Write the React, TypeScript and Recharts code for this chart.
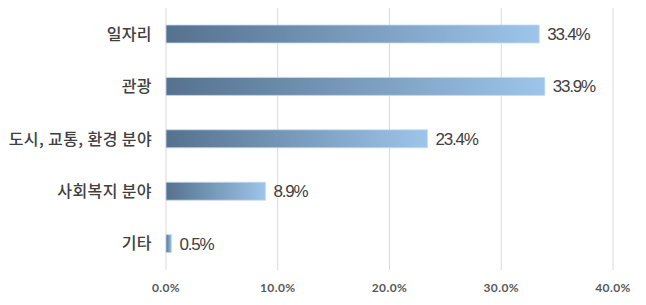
import React from "react";
import {
  BarChart,
  Bar,
  XAxis,
  YAxis,
  CartesianGrid,
  LabelList,
} from "recharts";

// 분야별 응답 비율 (%)
const categories = ["일자리", "관광", "도시, 교통, 환경 분야", "사회복지 분야", "기타"];
const values = [33.4, 33.9, 23.4, 8.9, 0.5];
const xTicks = [0, 10, 20, 30, 40];

const data = categories.map((name, i) => ({ name, value: values[i] }));

const App: React.FC = () => {
  return (
    <div style={{ position: "fixed", left: 0, top: 0, background: "#fff" }}>
      <BarChart
        width={646}
        height={305}
        data={data}
        layout="vertical"
        margin={{ top: 8, right: 33, bottom: 0, left: 0 }}
      >
        <defs>
          <linearGradient id="barFill" x1="0" y1="0" x2="1" y2="0">
            <stop offset="0%" stopColor="#55718E" />
            <stop offset="100%" stopColor="#9DC5EA" />
          </linearGradient>
        </defs>
        <CartesianGrid horizontal={false} stroke="#d9d9d9" />
        <XAxis
          type="number"
          domain={[0, 40]}
          ticks={xTicks}
          height={35}
          axisLine={false}
          tickLine={false}
          tickSize={0}
          tickMargin={13}
          tickFormatter={(v) => `${v.toFixed(1)}%`}
          tick={{
            fill: "#595959",
            fontSize: 12,
            fontWeight: 700,
            fontFamily: "Lato, sans-serif",
            letterSpacing: 0.4,
          }}
        />
        <YAxis
          type="category"
          dataKey="name"
          width={166}
          axisLine={false}
          tickLine={false}
          tickSize={0}
          tickMargin={14}
          tick={{
            fill: "#404040",
            fontSize: 16,
            fontWeight: 500,
            fontFamily: "'Noto Sans CJK KR', sans-serif",
            letterSpacing: 0.4,
          }}
        />
        <Bar
          dataKey="value"
          fill="url(#barFill)"
          stroke="#c5dcf0"
          strokeWidth={0.8}
          barSize={18}
          isAnimationActive={false}
        >
          <LabelList
            dataKey="value"
            position="right"
            offset={8}
            formatter={(v: number) => `${v}%`}
            style={{
              fill: "#404040",
              fontSize: 17,
              fontFamily: "'Liberation Sans', Arial, sans-serif",
              letterSpacing: -1.2,
            }}
          />
        </Bar>
      </BarChart>
    </div>
  );
};

export default App;
